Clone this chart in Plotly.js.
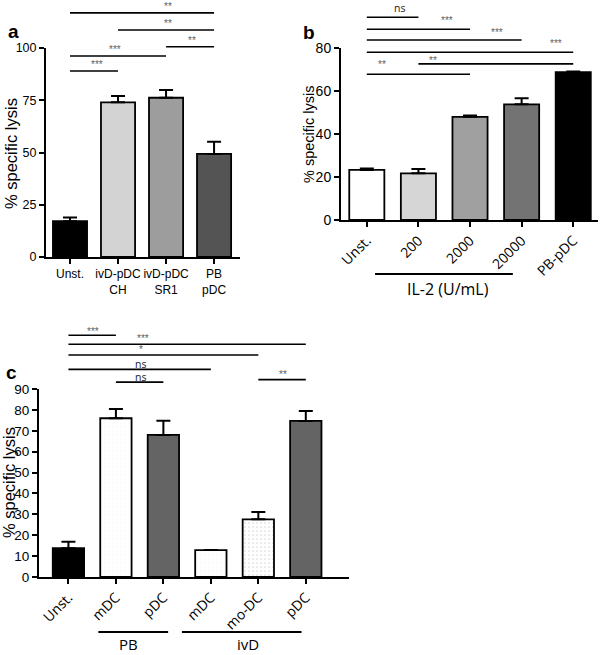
<!DOCTYPE html>
<html>
<head>
<meta charset="utf-8">
<script src="https://cdn.plot.ly/plotly-3.0.1.min.js"></script>
<style>
  body { margin: 0; background: #fff; }
  #plot { width: 602px; height: 655px; }
</style>
</head>
<body>
<div id="plot"></div>
<script>
// ---- panel a ----
var catsA = ['Unst.', 'ivD-pDC<br>CH', 'ivD-pDC<br>SR1', 'PB<br>pDC'];
var lysisA = [17.1, 74, 76.2, 49.3];
var errA = [1.8, 3, 3.7, 5.9];
var colorsA = ['#000000', '#d3d3d3', '#9d9d9d', '#545454'];
var ticksA = [0, 25, 50, 75, 100];
// [from, to, line level, label, label x, label level]
var sigA = [
  [0, 3, 116.8, '**', 2.04, 119.8],
  [1, 3, 108.6, '**', 2.04, 111.8],
  [2, 3, 100.6, '**', 2.54, 103.5],
  [0, 2, 96.2, '***', 0.94, 99.4],
  [0, 1, 89.0, '***', 0.56, 92.3]
];

// ---- panel b ----
var catsB = ['Unst.', '200', '2000', '20000', 'PB-pDC'];
var lysisB = [23.3, 21.7, 48, 53.8, 68.8];
var errB = [0.7, 2, 0.6, 2.8, 0.3];
var colorsB = ['#ffffff', '#d6d6d6', '#a0a0a0', '#737373', '#000000'];
var ticksB = [0, 20, 40, 60, 80];
var sigB = [
  [0, 1, 94.3, 'ns', 0.63, 98.6],
  [0, 2, 88.7, '***', 1.55, 93.0],
  [0, 3, 83.7, '***', 2.52, 87.4],
  [0, 4, 78.0, '***', 3.66, 81.9],
  [1, 4, 72.6, '**', 1.28, 74.1],
  [0, 2, 67.8, '**', 0.30, 72.1]
];
var groupB = [[0.16, 2.83, 'IL-2 (U/mL)', 1.57]];

// ---- panel c ----
var catsC = ['Unst.', 'mDC', 'pDC', 'mDC', 'mo-DC', 'pDC'];
var lysisC = [13.8, 76, 68, 12.9, 27.6, 74.7];
var errC = [3.1, 4.4, 6.8, 0, 3.5, 4.8];
var colorsC = ['#000000', '#f8f8f8', '#646464', '#f8f8f8', '#dadada', '#646464'];
var ticksC = [0, 10, 20, 30, 40, 50, 60, 70, 80, 90];
var sigC = [
  [0, 1, 115.7, '***', 0.52, 117.6],
  [0, 5, 111.4, '***', 1.57, 114.1],
  [0, 4, 106.3, '*', 1.53, 108.7],
  [0, 3, 99.4, 'ns', 1.51, 102.2],
  [1, 2, 93.3, 'ns', 1.51, 95.7],
  [4, 5, 94.5, '**', 4.52, 97.0]
];
var groupC = [[0.63, 2.1, 'PB', 1.26], [2.39, 4.91, 'ivD', 3.78]];

var W = 602, H = 655;
function px(x) { return x / W; }
function py(y) { return 1 - y / H; }

function barTrace(cats, vals, errs, colors, xa, ya, width, pattern) {
  var t = {
    type: 'bar',
    x: cats.map(function(c, i) { return i; }),
    y: vals,
    xaxis: xa, yaxis: ya,
    width: width,
    marker: { color: colors, line: { color: '#000', width: 1.8 } },
    error_y: {
      type: 'data', symmetric: false, array: errs,
      arrayminus: errs.map(function() { return 0; }),
      color: '#000', thickness: 2, width: 7
    },
    hoverinfo: 'none'
  };
  if (pattern) t.marker.pattern = pattern;
  return t;
}

var data = [
  barTrace(catsA, lysisA, errA, colorsA, 'x', 'y', 0.71),
  barTrace(catsB, lysisB, errB, colorsB, 'x2', 'y2', 0.68),
  barTrace(catsC, lysisC, errC, colorsC, 'x3', 'y3', 0.66, {
    shape: ['', '.', '', '.', '.', ''],
    fgcolor: '#c4c4c4', size: 4, solidity: 0.15
  })
];

function xAxis(domain, range, cats, anchor, font, angle) {
  return {
    domain: domain, range: range, anchor: anchor,
    tickvals: cats.map(function(c, i) { return i; }), ticktext: cats,
    tickangle: angle, tickfont: font,
    showline: true, linewidth: 2, linecolor: '#000',
    ticks: 'outside', ticklen: 5, tickwidth: 2, tickcolor: '#000',
    showgrid: false, zeroline: false, fixedrange: true
  };
}
function yAxis(domain, ticks, anchor, size) {
  return {
    domain: domain, range: [0, ticks[ticks.length - 1]], anchor: anchor,
    tickvals: ticks, tickfont: { family: 'Liberation Sans, Arial', size: size, color: '#000' },
    showline: true, linewidth: 2, linecolor: '#000',
    ticks: 'outside', ticklen: 5, tickwidth: 2, tickcolor: '#000',
    showgrid: false, zeroline: false, fixedrange: true
  };
}

var shapes = [];
var annotations = [];

function addSig(sig, xa, ya, ymax) {
  sig.forEach(function(s) {
    shapes.push({
      type: 'line', xref: xa, yref: ya + ' domain',
      x0: s[0], x1: s[1], y0: s[2] / ymax, y1: s[2] / ymax,
      line: { color: '#000', width: 1.6 }
    });
    var star = s[3].indexOf('*') >= 0;
    annotations.push({
      xref: xa, yref: ya + ' domain', x: s[4], y: s[5] / ymax,
      text: s[3], showarrow: false, xanchor: 'center', yanchor: 'middle',
      borderpad: 0,
      font: star ? { family: 'Liberation Sans, Arial', size: 10, color: '#606060' }
                 : { family: 'Open Sans', size: 10.5, color: '#222' }
    });
  });
}
function addGroup(groups, xa, lineY, textY, size) {
  groups.forEach(function(g) {
    shapes.push({
      type: 'line', xref: xa, yref: 'paper',
      x0: g[0], x1: g[1], y0: py(lineY), y1: py(lineY),
      line: { color: '#000', width: 2.2 }
    });
    annotations.push({
      xref: xa, yref: 'paper', x: g[3], y: py(textY), text: g[2],
      showarrow: false, xanchor: 'center', yanchor: 'middle', borderpad: 0,
      font: { family: 'Open Sans', size: size, color: '#000' }
    });
  });
}

addSig(sigA, 'x', 'y', ticksA[ticksA.length - 1]);
addSig(sigB, 'x2', 'y2', ticksB[ticksB.length - 1]);
addSig(sigC, 'x3', 'y3', ticksC[ticksC.length - 1]);
addGroup(groupB, 'x2', 274, 289, 16);
addGroup(groupC, 'x3', 632, 644, 15);

function label(text, x, y, size, bold, angle) {
  annotations.push({
    xref: 'paper', yref: 'paper', x: px(x), y: py(y), text: bold ? '<b>' + text + '</b>' : text,
    showarrow: false, xanchor: 'center', yanchor: 'middle', textangle: angle || 0,
    font: { family: 'Liberation Sans, Arial', size: size, color: '#000' }
  });
}
label('a', 13, 32, 19, true);
label('b', 309, 33, 19, true);
label('c', 11, 372, 19, true);
label('% specific lysis', 11, 154, 16.5, false, -90);
label('% specific lysis', 309, 134, 14.5, false, -90);
label('% specific lysis', 9, 483, 16.5, false, -90);

var arial = { family: 'Liberation Sans, Arial', size: 12, color: '#000' };
var opensans = { family: 'Open Sans', size: 14, color: '#000' };

var layout = {
  width: W, height: H,
  margin: { l: 0, r: 0, t: 0, b: 0 },
  paper_bgcolor: '#fff', plot_bgcolor: 'rgba(0,0,0,0)',
  showlegend: false,
  bargap: 0,
  xaxis: xAxis([px(46), px(240)], [-0.5, 3.54], catsA, 'y', arial, 0),
  yaxis: yAxis([py(257), py(48)], ticksA, 'x', 12.5),
  xaxis2: xAxis([px(341), px(598)], [-0.5, 4.48], catsB, 'y2', opensans, -45),
  yaxis2: yAxis([py(220), py(48)], ticksB, 'x2', 14),
  xaxis3: xAxis([px(39), px(349)], [-0.62, 5.91], catsC, 'y3', opensans, -45),
  yaxis3: yAxis([py(577), py(389)], ticksC, 'x3', 13.5),
  shapes: shapes,
  annotations: annotations
};

Plotly.newPlot('plot', data, layout, { displayModeBar: false, staticPlot: true });
</script>
</body>
</html>
